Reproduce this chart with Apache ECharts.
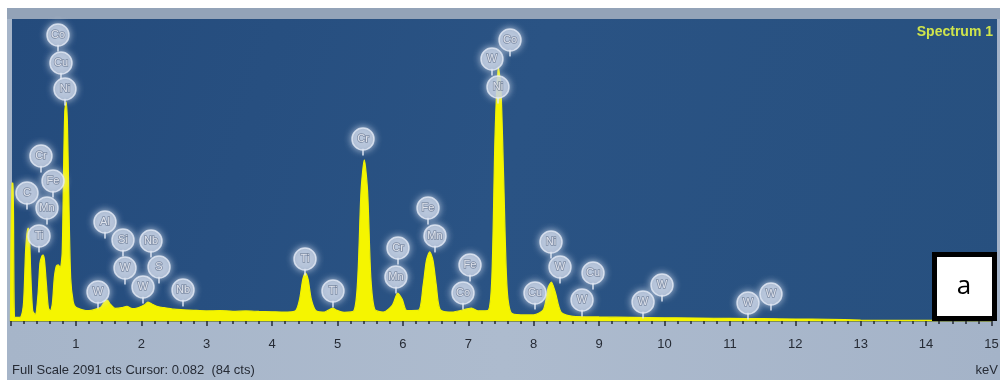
<!DOCTYPE html>
<html>
<head>
<meta charset="utf-8">
<script src="https://cdn.jsdelivr.net/npm/echarts@6/dist/echarts.min.js"></script>
<style>
  html, body { margin: 0; padding: 0; background: #fff; }
  #chart { width: 1002px; height: 380px; }
</style>
</head>
<body>
<div id="chart"></div>
<script>
// spectrum (energy in keV, counts)
const energy = [
  0.00, 0.02, 0.04, 0.06, 0.10, 0.16, 0.20, 0.23, 0.25, 0.27, 0.29, 0.31, 0.34, 0.38,
  0.42, 0.45, 0.48, 0.50, 0.52, 0.55, 0.58, 0.61, 0.64, 0.67, 0.70, 0.73, 0.76, 0.79,
  0.81, 0.83, 0.85, 0.87, 0.89, 0.92, 0.96, 1.00, 1.10, 1.20, 1.30, 1.38, 1.44, 1.48,
  1.52, 1.60, 1.70, 1.78, 1.86, 1.95, 2.05, 2.10, 2.16, 2.25, 2.35, 2.50, 2.65, 2.80,
  3.00, 3.20, 3.40, 3.60, 3.80, 4.00, 4.20, 4.36, 4.42, 4.47, 4.51, 4.55, 4.60, 4.67,
  4.80, 4.88, 4.93, 4.98, 5.10, 5.25, 5.31, 5.36, 5.41, 5.46, 5.51, 5.57, 5.70, 5.84,
  5.92, 5.99, 6.06, 6.24, 6.31, 6.36, 6.41, 6.46, 6.51, 6.57, 6.75, 6.95, 7.05, 7.15,
  7.30, 7.36, 7.41, 7.46, 7.50, 7.54, 7.59, 7.65, 7.80, 8.00, 8.15, 8.22, 8.27, 8.33,
  8.42, 8.60, 9.00, 9.50, 10.00, 10.50, 11.00, 11.50, 12.00, 12.50, 13.00, 13.50, 14.00,
  14.50, 15.00
];
const counts = [
  0, 955, 955, 30, 25, 30, 130, 480, 600, 644, 590, 330, 70, 45,
  180, 400, 450, 457, 420, 250, 90, 70, 120, 300, 380, 388, 370, 470,
  1000, 1450, 1516, 1380, 900, 300, 130, 95, 78, 72, 82, 95, 135, 145,
  120, 88, 92, 102, 85, 92, 112, 130, 118, 100, 92, 82, 78, 74,
  70, 72, 67, 70, 66, 64, 62, 72, 150, 290, 332, 290, 150, 72,
  62, 80, 90, 76, 60, 70, 300, 900, 1115, 900, 300, 80, 62, 110,
  194, 150, 72, 75, 250, 420, 478, 420, 250, 80, 62, 80, 90, 70,
  72, 300, 1300, 1759, 1600, 1000, 250, 60, 42, 42, 80, 230, 270, 200,
  60, 32, 28, 25, 22, 20, 18, 16, 14, 12, 6, 5, 4,
  4, 3
];

// element markers (position in keV / counts)
const markNames = [
  "Co", "Cu", "Ni", "Cr", "Fe", "C", "Mn", "Ti",
  "Al", "Si", "Nb", "W", "S", "W", "W", "Nb",
  "Ti", "Ti", "Cr", "Cr", "Mn", "Fe", "Mn", "Fe", "Co",
  "Co", "W", "Ni",
  "Ni", "W", "Cu", "Cu", "W", "W", "W", "W", "W"
];
const markKeV = [
  0.726, 0.772, 0.833, 0.466, 0.650, 0.252, 0.558, 0.436,
  1.445, 1.720, 2.148, 1.751, 2.271, 2.026, 1.338, 2.638,
  4.503, 4.931, 5.390, 5.925, 5.894, 6.384, 6.491, 7.026, 6.919,
  7.638, 7.362, 7.454,
  8.265, 8.402, 8.020, 8.907, 8.739, 9.672, 9.962, 11.277, 11.628
];
const markCts = [
  1980, 1786, 1606, 1142, 969, 886, 782, 589,
  685, 561, 554, 367, 374, 235, 201, 215,
  429, 208, 1260, 505, 305, 782, 589, 388, 194,
  1946, 1814, 1620,
  547, 374, 194, 332, 145, 132, 249, 125, 187
];

const xTicks = [1, 2, 3, 4, 5, 6, 7, 8, 9, 10, 11, 12, 13, 14, 15];
const fullScale = 2091;

const spectrum = energy.map((e, i) => [e, counts[i]]);
const marks = markNames.map((n, i) => ({ name: n, value: [markKeV[i], markCts[i]] }));

const chart = echarts.init(document.getElementById("chart"), null, { renderer: "canvas" });

const option = {
  animation: false,
  backgroundColor: "#ffffff",
  graphic: [
    // grey frame
    {
      type: "rect", z: -20, silent: true,
      shape: { x: 7, y: 8, width: 993, height: 372 },
      style: {
        fill: {
          type: "linear", x: 0, y: 0, x2: 1, y2: 0,
          colorStops: [
            { offset: 0, color: "#a6b5c9" },
            { offset: 0.5, color: "#adbbce" },
            { offset: 1, color: "#a4b3c8" }
          ]
        }
      }
    },
    {
      type: "rect", z: -19, silent: true,
      shape: { x: 7, y: 8, width: 993, height: 11 },
      style: { fill: "#93a3b8" }
    },
    // blue plot background
    {
      type: "rect", z: -18, silent: true,
      shape: { x: 12, y: 19, width: 985, height: 302 },
      style: {
        fill: {
          type: "linear", x: 0, y: 0, x2: 1, y2: 1,
          colorStops: [
            { offset: 0, color: "#244b7c" },
            { offset: 0.5, color: "#2a5384" },
            { offset: 1, color: "#27507f" }
          ]
        }
      }
    },
    {
      type: "text", z: 10, silent: true,
      style: {
        x: 993, y: 32, text: "Spectrum 1", fill: "#cfe44c",
        font: "bold 14px 'Liberation Sans', Arial, sans-serif",
        textAlign: "right", textVerticalAlign: "middle"
      }
    },
    {
      type: "text", z: 10, silent: true,
      style: {
        x: 12, y: 370, text: "Full Scale 2091 cts Cursor: 0.082  (84 cts)", fill: "#262b35",
        font: "13px 'Liberation Sans', Arial, sans-serif",
        textAlign: "left", textVerticalAlign: "middle"
      }
    },
    {
      type: "text", z: 10, silent: true,
      style: {
        x: 998, y: 370, text: "keV", fill: "#262b35",
        font: "13px 'Liberation Sans', Arial, sans-serif",
        textAlign: "right", textVerticalAlign: "middle"
      }
    },
    // "a" box
    {
      type: "rect", z: 20, silent: true,
      shape: { x: 934.5, y: 254.5, width: 60, height: 64 },
      style: { fill: "#ffffff", stroke: "#000000", lineWidth: 5 }
    },
    {
      type: "text", z: 21, silent: true,
      style: {
        x: 964, y: 287, text: "a", fill: "#000000",
        font: "26px 'Open Sans', 'Noto Sans', sans-serif",
        textAlign: "center", textVerticalAlign: "middle"
      }
    }
  ],
  grid: { left: 10.5, right: 10.5, top: 19, bottom: 59 },
  xAxis: {
    type: "value",
    min: 0,
    max: 15,
    interval: 1,
    splitLine: { show: false },
    axisLine: { show: true, onZero: false, lineStyle: { color: "#6f7d3c", width: 1.5 } },
    axisTick: { show: true, length: 5, lineStyle: { color: "#262b35", width: 1.5 } },
    minorTick: { show: true, splitNumber: 5, length: 3, lineStyle: { color: "#262b35", width: 1.5 } },
    axisLabel: {
      color: "#262b35",
      fontSize: 13,
      fontFamily: "'Liberation Sans', Arial, sans-serif",
      margin: 17,
      formatter: (v) => (xTicks.includes(v) ? String(v) : "")
    }
  },
  yAxis: {
    type: "value",
    min: 0,
    max: fullScale,
    show: false
  },
  series: [
    {
      type: "line",
      data: spectrum,
      showSymbol: false,
      smooth: 0.25,
      lineStyle: { color: "#f2f200", width: 1.2 },
      areaStyle: { color: "#f5f500", opacity: 1 },
      z: 3
    },
    {
      // little stems under the element bubbles
      type: "scatter",
      data: marks,
      symbol: "rect",
      symbolSize: [2, 7],
      symbolOffset: [0, 13],
      itemStyle: { color: "rgba(225,232,244,0.9)" },
      z: 4
    },
    {
      type: "scatter",
      data: marks,
      symbol: "circle",
      symbolSize: 22,
      itemStyle: {
        color: "rgba(190,202,222,0.92)",
        borderColor: "rgba(232,238,248,0.95)",
        borderWidth: 1.5,
        shadowBlur: 7,
        shadowColor: "rgba(225,232,245,0.95)"
      },
      label: {
        show: true,
        position: "inside",
        formatter: "{b}",
        color: "#f6f8fc",
        fontSize: 11,
        fontFamily: "'Liberation Sans', Arial, sans-serif",
        textBorderColor: "rgba(100,115,140,0.85)",
        textBorderWidth: 1.5
      },
      z: 5
    }
  ]
};

chart.setOption(option);
</script>
</body>
</html>
